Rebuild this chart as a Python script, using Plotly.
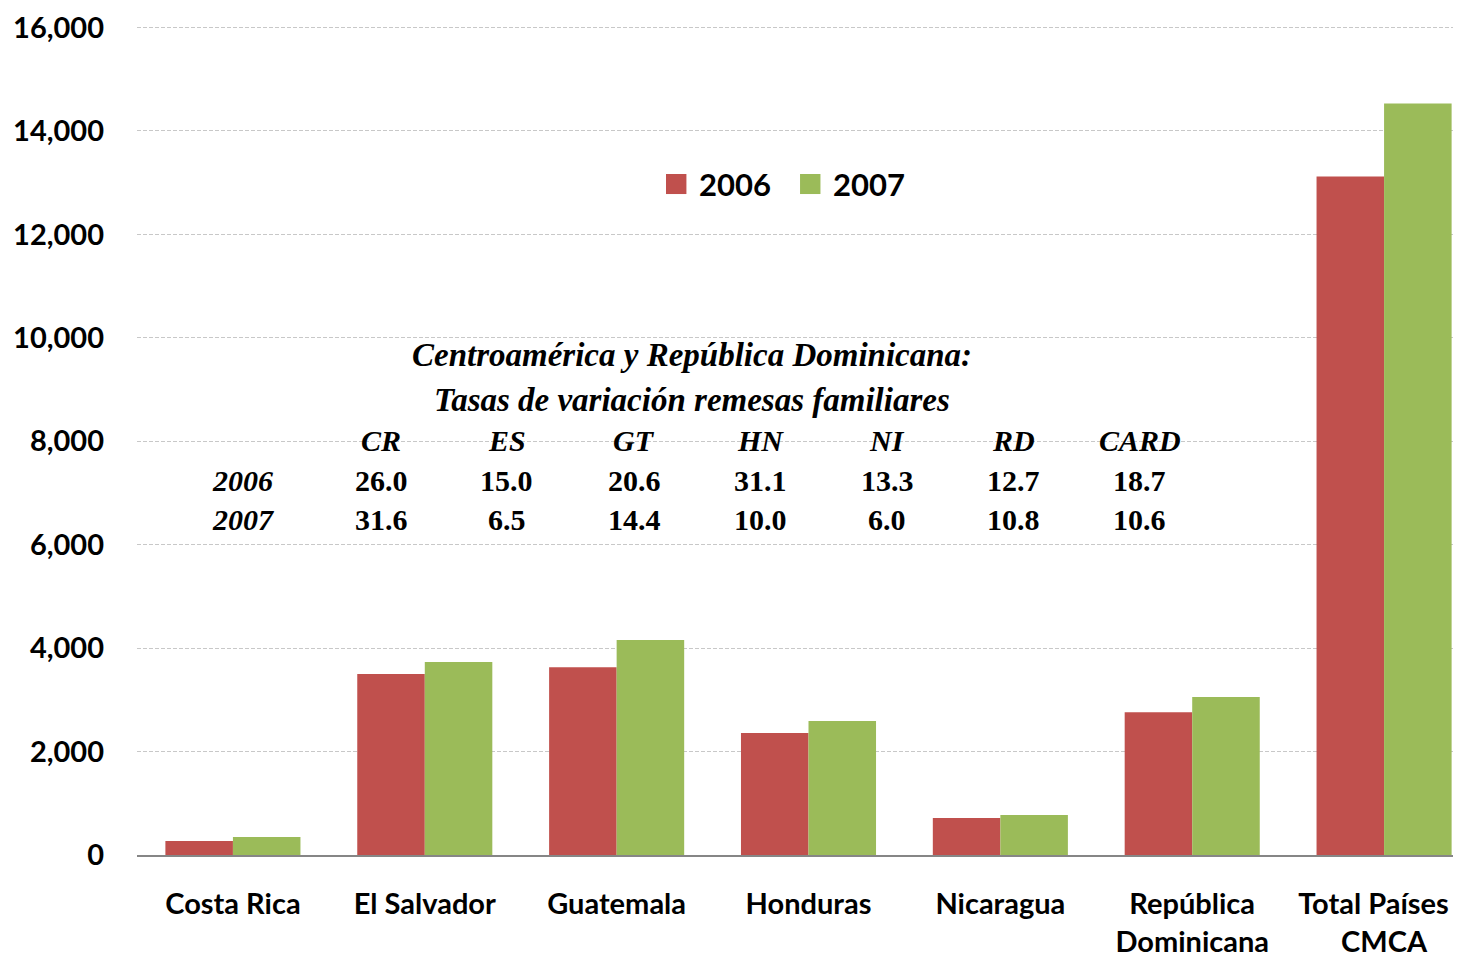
import plotly.graph_objects as go

categories = ["Costa Rica", "El Salvador", "Guatemala", "Honduras", "Nicaragua",
              "República<br>Dominicana", "Total Países<br>CMCA"]
values_2006 = [270, 3500, 3630, 2360, 715, 2760, 13120]
values_2007 = [348, 3730, 4155, 2590, 773, 3055, 14530]
series_names = ["2006", "2007"]

table_cols = ["CR", "ES", "GT", "HN", "NI", "RD", "CARD"]
rates_2006 = ["26.0", "15.0", "20.6", "31.1", "13.3", "12.7", "18.7"]
rates_2007 = ["31.6", "6.5", "14.4", "10.0", "6.0", "10.8", "10.6"]
table_title = ["Centroamérica y República Dominicana:", "Tasas de variación remesas familiares"]

RED = "#C0504D"
GREEN = "#9BBB59"
SANS = "Lato"
SERIF = "Liberation Serif"

fig = go.Figure()
fig.add_trace(go.Bar(x=categories, y=values_2006, name=series_names[0], marker_color=RED,
                     marker_line_width=0, showlegend=False))
fig.add_trace(go.Bar(x=categories, y=values_2007, name=series_names[1], marker_color=GREEN,
                     marker_line_width=0, showlegend=False))

ann = []
for i, t in enumerate(table_title):
    ann.append(dict(text="<b><i>%s</i></b>" % t, x=0.4133, y=[0.603, 0.549][i],
                    xref="paper", yref="paper", showarrow=False,
                    font=dict(family=SERIF, size=33, color="black"),
                    xanchor="center", yanchor="middle"))
col_x = [0.1817, 0.2755, 0.3701, 0.4639, 0.5585, 0.6523, 0.7468]
row_y = [0.4994, 0.452, 0.405]
for j, c in enumerate(table_cols):
    ann.append(dict(text="<b><i>%s</i></b>" % c, x=col_x[j], y=row_y[0], xref="paper",
                    yref="paper", showarrow=False,
                    font=dict(family=SERIF, size=30, color="black"),
                    xanchor="center", yanchor="middle"))
    ann.append(dict(text="<b>%s</b>" % rates_2006[j], x=col_x[j], y=row_y[1], xref="paper",
                    yref="paper", showarrow=False,
                    font=dict(family=SERIF, size=30, color="black"),
                    xanchor="center", yanchor="middle"))
    ann.append(dict(text="<b>%s</b>" % rates_2007[j], x=col_x[j], y=row_y[2], xref="paper",
                    yref="paper", showarrow=False,
                    font=dict(family=SERIF, size=30, color="black"),
                    xanchor="center", yanchor="middle"))
for yv, lab in zip(row_y[1:], series_names):
    ann.append(dict(text="<b><i>%s</i></b>" % lab, x=0.0789, y=yv, xref="paper", yref="paper",
                    showarrow=False, font=dict(family=SERIF, size=30, color="black"),
                    xanchor="center", yanchor="middle"))

# custom legend (large square swatches)
shapes = []
leg_x = [0.3939, 0.4937]
for k, (nm, col) in enumerate(zip(series_names, [RED, GREEN])):
    shapes.append(dict(type="rect", xref="paper", yref="paper",
                       x0=leg_x[k], x1=leg_x[k] + 0.0152, y0=0.7973, y1=0.8215,
                       fillcolor=col, line=dict(width=0)))
    ann.append(dict(text="<b>%s</b>" % nm, x=leg_x[k] + 0.0229, y=0.8094, xref="paper",
                    yref="paper", showarrow=False, xanchor="left", yanchor="middle",
                    font=dict(family=SANS, size=31, color="black")))

# tick labels: nudge the last (edge) label slightly left so it is not cut at the page edge
tick_text = categories[:-1] + [categories[-1].replace("<br>", "\u00a0\u00a0\u00a0<br>")]

# page body has an 8px margin; the reference's plot area runs past the right edge
fig.update_layout(
    width=1472, height=948,
    margin=dict(l=129, r=0, t=18, b=101),
    plot_bgcolor="white", paper_bgcolor="white",
    barmode="group", bargap=0.296, bargroupgap=0,
    font=dict(family=SANS, color="black"),
    showlegend=False,
    annotations=ann, shapes=shapes,
)
fig.update_yaxes(range=[0, 16030], tickvals=[0, 2000, 4000, 6000, 8000, 10000, 12000, 14000, 16000],
                 tickformat=",", showgrid=True,
                 gridcolor="#C8C8C8", griddash="4px,2px", gridwidth=1,
                 zeroline=False, showline=False, ticks="", ticklen=0,
                 automargin=False, ticklabelstandoff=32, ticklabeloverflow="allow",
                 tickfont=dict(family=SANS, size=29, color="black", weight="bold"))
fig.update_xaxes(showline=True, linecolor="#868686", linewidth=2, ticks="",
                 tickmode="array", tickvals=categories, ticktext=tick_text,
                 automargin=False, ticklabelstandoff=22, ticklabeloverflow="allow",
                 tickfont=dict(family=SANS, size=29, color="black", weight="bold"))

fig.write_html("out.html")
